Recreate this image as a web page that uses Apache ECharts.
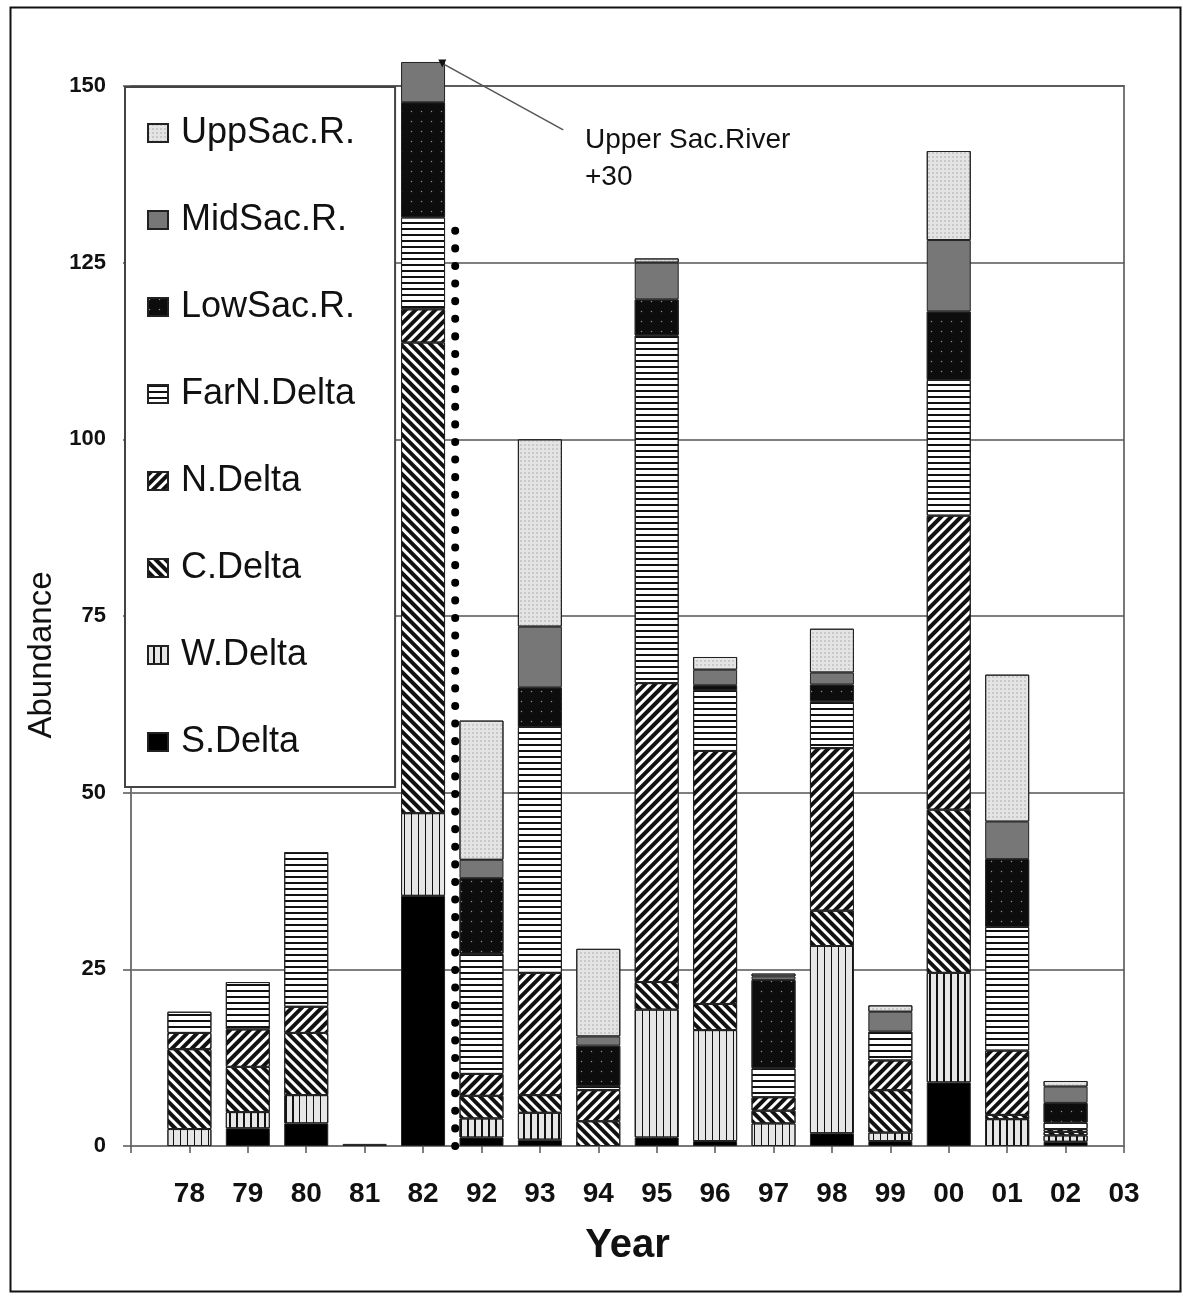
<!DOCTYPE html>
<html>
<head>
<meta charset="utf-8">
<script src="https://cdn.jsdelivr.net/npm/echarts@6/dist/echarts.min.js"></script>
<style>
  html, body { margin: 0; padding: 0; background: #fff; }
  #chart { width: 1183px; height: 1297px; }
</style>
</head>
<body>
<div id="chart"></div>
<script>
// categories (first slot is an empty tick at the axis origin)
const years = ['', '78', '79', '80', '81', '82', '92', '93', '94', '95', '96', '97', '98', '99', '00', '01', '02', '03']

// segment values per region, bottom of the stack first
const sDelta   = [0, 0,   2.5, 3.2,  0.3, 35.4, 1.2, 0.9,  0,   1.2,  0.7,  0,    1.8,  0.7, 9.0,  0,    0.6, 0]
const wDelta   = [0, 2.4, 2.3, 4.0,  0,   11.7, 2.7, 3.8,  0,   18.1, 15.7, 3.2,  26.5, 1.2, 15.5, 3.8,  0.9, 0]
const cDelta   = [0, 11.3, 6.4, 8.8, 0,   66.6, 3.2, 2.5,  3.5, 3.9,  3.7,  1.8,  5.0,  6.0, 23.1, 0.6,  0.5, 0]
const nDelta   = [0, 2.3, 5.3, 3.7,  0,   4.7,  3.1, 17.3, 4.4, 42.3, 35.8, 1.9,  23.0, 4.2, 41.6, 9.1,  0.4, 0]
const farNDelta = [0, 3.0, 6.7, 21.9, 0,  13.0, 17.0, 34.8, 0.6, 49.2, 8.6, 4.1,  6.6,  4.1, 19.2, 17.5, 0.9, 0]
const lowSac   = [0, 0,   0,   0,    0,   16.3, 10.7, 5.6, 5.7, 5.1,  0.7,  12.5, 2.4,  0,   9.7,  9.6,  2.8, 0]
const midSac   = [0, 0,   0,   0,    0,   5.7,  2.6, 8.6,  1.3, 5.2,  2.2,  0.5,  1.7,  2.8, 10.1, 5.3,  2.3, 0]
const uppSac   = [0, 0,   0,   0,    0,   0,    19.7, 26.5, 12.4, 0.6, 1.8, 0.4,  6.2,  0.9, 12.6, 20.8, 0.8, 0]

const seriesNames = ['S.Delta', 'W.Delta', 'C.Delta', 'N.Delta', 'FarN.Delta', 'LowSac.R.', 'MidSac.R.', 'UppSac.R.']
const seriesValues = [sDelta, wDelta, cDelta, nDelta, farNDelta, lowSac, midSac, uppSac]

// break marker between 82 and 92, and the callout for the truncated 82 bar
const dividerLine = [[5.55, 0], [5.55, 132]]
const calloutLine = [[5.33, 153.2], [7.4, 143.8]]

const FONT = '"Liberation Sans", Arial, sans-serif'

const styles = [
    { color: '#000' },
    { color: '#e6e6e6', decal: { symbol: 'rect', symbolSize: 1, dashArrayX: [1, 0], dashArrayY: [1.6, 4.4], rotation: Math.PI / 2, color: '#111' } },
    { color: '#fff', decal: { symbol: 'rect', symbolSize: 1, dashArrayX: [1, 0], dashArrayY: [3.4, 3], rotation: Math.PI / 4, color: '#111' } },
    { color: '#fff', decal: { symbol: 'rect', symbolSize: 1, dashArrayX: [1, 0], dashArrayY: [3.4, 3], rotation: -Math.PI / 4, color: '#111' } },
    { color: '#fff', decal: { symbol: 'rect', symbolSize: 1, dashArrayX: [1, 0], dashArrayY: [2, 3.5], color: '#111' } },
    { color: '#0d0d0d', decal: { symbol: 'circle', symbolSize: 0.5, dashArrayX: [3, 7], dashArrayY: [3, 7], color: '#8c8c8c' } },
    { color: '#777' },
    { color: '#e4e4e4', decal: { symbol: 'circle', symbolSize: 0.7, dashArrayX: [2, 2], dashArrayY: [2, 2], color: '#9a9a9a' } }
]

const barSeries = seriesNames.map((name, i) => ({
    name: name,
    type: 'bar',
    stack: 'total',
    barWidth: 44,
    clip: false,
    data: seriesValues[i].map(v => v || null),
    itemStyle: {
        color: styles[i].color,
        decal: styles[i].decal,
        borderColor: '#222',
        borderWidth: 1
    }
}))

const chart = echarts.init(document.getElementById('chart'))
chart.setOption({
    animation: false,
    backgroundColor: '#fff',
    grid: {
        left: 131, right: 59, top: 86, bottom: 151,
        show: true, borderColor: '#777', borderWidth: 2
    },
    legend: {
        orient: 'vertical',
        left: 125,
        top: 87,
        data: seriesNames.slice().reverse(),
        icon: 'rect',
        itemWidth: 20,
        itemHeight: 18,
        itemGap: 45,
        padding: [25, 40, 24, 22],
        backgroundColor: '#fff',
        borderColor: '#444',
        borderWidth: 2,
        textStyle: { fontFamily: FONT, fontSize: 36, color: '#111', lineHeight: 42, padding: [0, 0, 0, 8] }
    },
    xAxis: [
        {
            type: 'category',
            data: years,
            boundaryGap: false,
            axisLine: { lineStyle: { color: '#777', width: 2 } },
            axisTick: { show: true, interval: 0, length: 7, lineStyle: { color: '#555', width: 1.5 } },
            axisLabel: { interval: 0, margin: 34, fontFamily: FONT, fontSize: 28, fontWeight: 'bold', color: '#111' },
            name: 'Year',
            nameLocation: 'middle',
            nameGap: 80,
            nameTextStyle: { fontFamily: FONT, fontSize: 40, fontWeight: 'bold', color: '#111' }
        },
        { type: 'value', min: 0, max: 17, show: false }
    ],
    yAxis: {
        type: 'value',
        min: 0,
        max: 150,
        interval: 25,
        axisLine: { show: true, lineStyle: { color: '#777', width: 2 } },
        axisTick: { show: true, length: 8, lineStyle: { color: '#555', width: 1.5 } },
        axisLabel: { margin: 25, fontFamily: FONT, fontSize: 22, fontWeight: 'bold', color: '#111' },
        splitLine: { lineStyle: { color: '#555', width: 1.5 } },
        name: 'Abundance',
        nameLocation: 'middle',
        nameGap: 68,
        nameTextStyle: { fontFamily: FONT, fontSize: 33, color: '#111', padding: [0, 78, 0, 0] }
    },
    series: barSeries.concat([
        {
            type: 'line',
            xAxisIndex: 1,
            data: dividerLine,
            symbol: 'none',
            silent: true,
            clip: false,
            z: 5,
            lineStyle: { color: '#000', width: 8, type: [0.1, 17.5], cap: 'round' }
        },
        {
            type: 'line',
            xAxisIndex: 1,
            data: [{ value: calloutLine[0], symbol: 'triangle', symbolSize: 8, symbolRotate: 180 }, calloutLine[1]],
            symbol: 'none',
            showSymbol: true,
            silent: true,
            clip: false,
            z: 5,
            itemStyle: { color: '#111' },
            lineStyle: { color: '#555', width: 1.5 }
        }
    ]),
    graphic: [
        {
            type: 'rect', left: 8, top: 5, silent: true,
            shape: { width: 1170, height: 1284 },
            style: { fill: 'none', stroke: '#111', lineWidth: 2 }
        },
        {
            type: 'text', left: 585, top: 122, silent: true,
            style: { text: 'Upper Sac.River\n+30', font: '28px "Liberation Sans", Arial, sans-serif', lineHeight: 37, fill: '#111' }
        }
    ]
})
</script>
</body>
</html>
